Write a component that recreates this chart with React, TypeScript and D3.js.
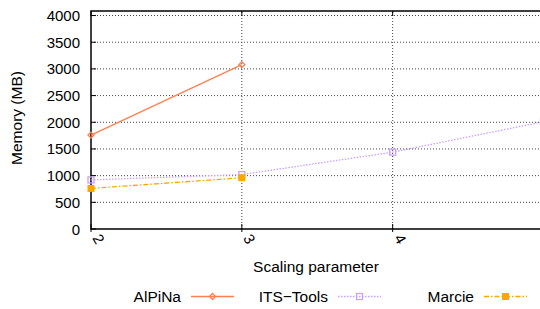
import React, { useEffect, useRef } from 'react';
import * as d3 from 'd3';

// scaling parameter values and memory (MB) per tool
const scaling = [2, 3, 4, 5];
const alpina = [1760, 3080];
const itsTools = [920, 1020, 1440, 2010];
const marcie = [760, 960];
const yTicks = [0, 500, 1000, 1500, 2000, 2500, 3000, 3500, 4000];
const xTicks = [2, 3, 4];

type Pt = { x: number; y: number };

const App: React.FC = () => {
  const chartRef = useRef<HTMLDivElement | null>(null);

  useEffect(() => {
    document.body.style.margin = '0';
    d3.select(chartRef.current).selectAll('*').remove();

    const width = 540;
    const height = 309;
    const font = '"Liberation Sans", Arial, sans-serif';

    const svg = d3.select(chartRef.current)
      .append('svg')
      .attr('width', width)
      .attr('height', height)
      .style('display', 'block')
      .style('font-family', font);

    const xScale = d3.scaleLinear().domain([2, 5]).range([91, 543.5]);
    const yScale = d3.scaleLinear().domain([0, 4085]).range([229, 11]);

    // grid
    svg.selectAll('.hgrid')
      .data(yTicks.filter(d => d > 0))
      .enter()
      .append('line')
      .attr('x1', xScale(2))
      .attr('x2', xScale(5))
      .attr('y1', d => yScale(d))
      .attr('y2', d => yScale(d))
      .attr('stroke', '#444')
      .attr('stroke-width', 1)
      .attr('stroke-dasharray', '1,2');

    svg.selectAll('.vgrid')
      .data(xTicks.filter(d => d > 2))
      .enter()
      .append('line')
      .attr('x1', d => xScale(d))
      .attr('x2', d => xScale(d))
      .attr('y1', yScale(0))
      .attr('y2', 11)
      .attr('stroke', '#444')
      .attr('stroke-width', 1)
      .attr('stroke-dasharray', '1,2');

    // border
    svg.append('path')
      .attr('d', `M${xScale(5)},11 H${xScale(2)} V${yScale(0)} H${xScale(5)}`)
      .attr('fill', 'none')
      .attr('stroke', '#000')
      .attr('stroke-width', 1.5);

    // ticks
    yTicks.forEach(t => {
      svg.append('line')
        .attr('x1', xScale(2)).attr('x2', xScale(2) + 5)
        .attr('y1', yScale(t)).attr('y2', yScale(t))
        .attr('stroke', '#000');
      svg.append('text')
        .attr('x', 80)
        .attr('y', yScale(t) + 5.5)
        .attr('text-anchor', 'end')
        .attr('font-size', 15)
        .attr('fill', '#000')
        .text(t);
    });

    xTicks.forEach(t => {
      svg.append('line')
        .attr('x1', xScale(t)).attr('x2', xScale(t))
        .attr('y1', yScale(0) + 3).attr('y2', yScale(0) - 5)
        .attr('stroke', '#000');
      svg.append('line')
        .attr('x1', xScale(t)).attr('x2', xScale(t))
        .attr('y1', 11).attr('y2', 16)
        .attr('stroke', '#000');
      svg.append('text')
        .attr('transform', `translate(${xScale(t) + 1},${yScale(0) + 9}) rotate(60)`)
        .attr('text-anchor', 'start')
        .attr('font-size', 15)
        .attr('fill', '#000')
        .text(t);
    });

    // axis labels
    svg.append('text')
      .attr('x', 316)
      .attr('y', 272)
      .attr('text-anchor', 'middle')
      .attr('font-size', 15.5)
      .attr('fill', '#000')
      .text('Scaling parameter');

    svg.append('text')
      .attr('transform', 'rotate(-90)')
      .attr('x', -118)
      .attr('y', 22)
      .attr('text-anchor', 'middle')
      .attr('font-size', 15.5)
      .attr('fill', '#000')
      .text('Memory (MB)');

    const line = d3.line<Pt>().x(d => xScale(d.x)).y(d => yScale(d.y));

    const series = [
      { name: 'AlPiNa', values: alpina, color: '#ff7f50', dash: null as string | null, marker: 'diamond', lx: 181 },
      { name: 'ITS\u2212Tools', values: itsTools, color: '#c8a0ff', dash: '1.5,1.5', marker: 'opensq', lx: 328 },
      { name: 'Marcie', values: marcie, color: '#ffa500', dash: '5,2,1.5,2', marker: 'sq', lx: 474 },
    ];

    const drawMarker = (g: any, kind: string, color: string, cx: number, cy: number) => {
      if (kind === 'diamond') {
        g.append('path')
          .attr('d', `M${cx - 3},${cy} L${cx},${cy - 3} L${cx + 3},${cy} L${cx},${cy + 3} Z`)
          .attr('fill', 'none')
          .attr('stroke', color)
          .attr('stroke-width', 1.3);
      } else if (kind === 'opensq') {
        g.append('rect')
          .attr('x', cx - 3).attr('y', cy - 3)
          .attr('width', 6).attr('height', 6)
          .attr('fill', 'none')
          .attr('stroke', color)
          .attr('stroke-width', 1.3);
      } else {
        g.append('rect')
          .attr('x', cx - 3.5).attr('y', cy - 3.5)
          .attr('width', 7).attr('height', 7)
          .attr('fill', color);
      }
    };

    series.forEach(s => {
      const pts: Pt[] = s.values.map((v, i) => ({ x: scaling[i], y: v }));
      const path = svg.append('path')
        .attr('d', line(pts) as string)
        .attr('fill', 'none')
        .attr('stroke', s.color)
        .attr('stroke-width', 1.3);
      if (s.dash) path.attr('stroke-dasharray', s.dash);
      pts.forEach(p => drawMarker(svg, s.marker, s.color, xScale(p.x), yScale(p.y)));

      // legend
      svg.append('text')
        .attr('x', s.lx)
        .attr('y', 302)
        .attr('text-anchor', 'end')
        .attr('font-size', 15.5)
        .attr('fill', '#000')
        .text(s.name);
      const lg = svg.append('line')
        .attr('x1', s.lx + 10).attr('x2', s.lx + 53)
        .attr('y1', 296.5).attr('y2', 296.5)
        .attr('stroke', s.color)
        .attr('stroke-width', 1.3);
      if (s.dash) lg.attr('stroke-dasharray', s.dash);
      drawMarker(svg, s.marker, s.color, s.lx + 31.5, 296.5);
    });
  }, []);

  return <div ref={chartRef}></div>;
};

export default App;
